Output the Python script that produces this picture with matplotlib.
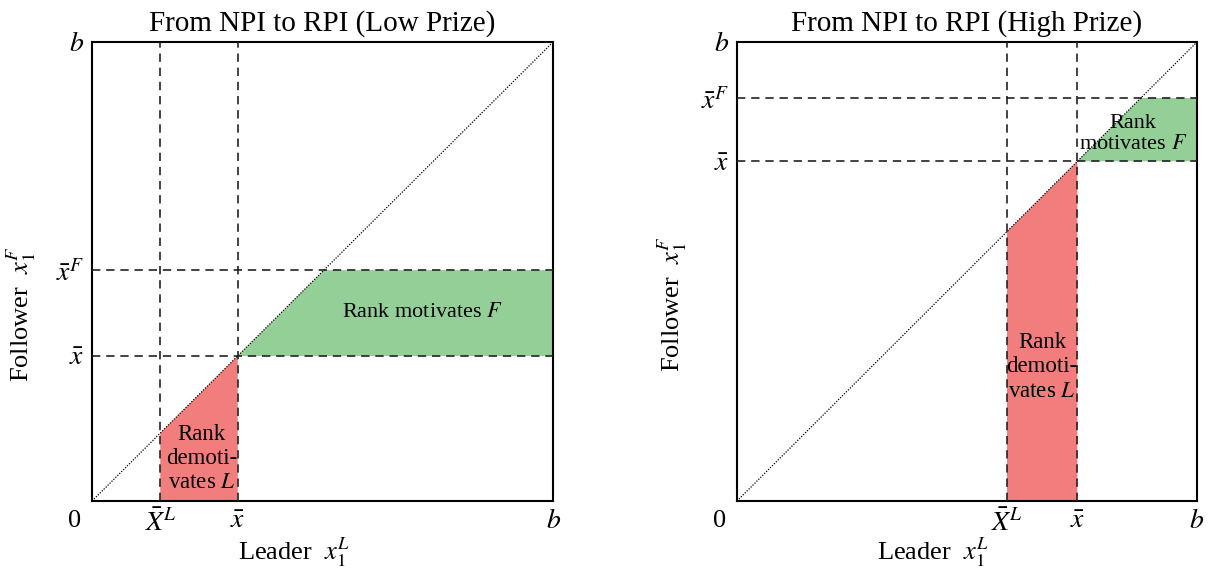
import matplotlib
matplotlib.use("Agg")
import matplotlib.pyplot as plt
from matplotlib.patches import Polygon

plt.rcParams['font.family'] = ['Liberation Serif', 'DejaVu Serif']
plt.rcParams['mathtext.fontset'] = 'stix'

# Threshold values (as fractions of the upper bound b) for each scenario
titles = ["From NPI to RPI (Low Prize)", "From NPI to RPI (High Prize)"]
xbar_L = [0.148, 0.587]      # leader threshold  \bar{X}^L
xbar = [0.316, 0.74]         # common threshold  \bar{x}
xbar_F = [0.503, 0.878]      # follower threshold \bar{x}^F
b_val = 1.0

green_text = ["Rank motivates $F$", "Rank\nmotivates $F$"]
red_text = ["Rank\ndemoti-\nvates $L$", "Rank\ndemoti-\nvates $L$"]
green_pos = [(0.716, 0.41), (0.861, 0.80)]
red_pos = [(0.238, 0.092), (0.663, 0.292)]
xlabel_x = [0.438, 0.426]
ylabel_y = [0.407, 0.43]
ylabel_x = [-0.117, -0.105]

GREEN = "#95cf98"
RED = "#f27d7d"
DASH = dict(color="#222222", lw=1.2, ls=(0, (5, 3.5)), zorder=3)

fig = plt.figure(figsize=(12.11, 5.69), dpi=100)
positions = [[0.076, 0.1195, 0.3807, 0.8067], [0.6086, 0.1195, 0.3798, 0.8067]]

for i, pos in enumerate(positions):
    ax = fig.add_axes(pos)
    ax.set_xlim(0, b_val)
    ax.set_ylim(0, b_val)
    xl, xb, xf = xbar_L[i], xbar[i], xbar_F[i]

    # shaded regions
    ax.add_patch(Polygon([(xl, 0), (xl, xl), (xb, xb), (xb, 0)],
                         closed=True, facecolor=RED, edgecolor='none', zorder=1))
    ax.add_patch(Polygon([(xb, xb), (xf, xf), (b_val, xf), (b_val, xb)],
                         closed=True, facecolor=GREEN, edgecolor='none', zorder=1))

    # 45-degree line
    ax.plot([0, b_val], [0, b_val], color="black", lw=0.9, ls=(0, (1, 1.2)), zorder=2)

    # threshold guide lines
    ax.axvline(xl, **DASH)
    ax.axvline(xb, **DASH)
    ax.axhline(xb, **DASH)
    ax.axhline(xf, **DASH)

    ax.text(*green_pos[i], green_text[i], ha='center', va='center',
            fontsize=16, linespacing=1.15, zorder=4)
    ax.text(*red_pos[i], red_text[i], ha='center', va='center',
            fontsize=16.5, linespacing=1.2, zorder=4)

    ax.set_xticks([xl, xb, b_val])
    ax.set_xticklabels([r"$\bar{X}^L$", r"$\bar{x}$", r"$b$"], fontsize=20)
    ax.set_yticks([xb, xf, b_val])
    ax.set_yticklabels([r"$\bar{x}$", r"$\bar{x}^F$", r"$b$"], fontsize=20)
    ax.tick_params(length=0, pad=6)
    ax.text(-0.038, -0.02, "0", transform=ax.transAxes, ha='center', va='top',
            fontsize=19)

    for s in ax.spines.values():
        s.set_linewidth(1.5)
        s.set_color("black")

    ax.set_title(titles[i], fontsize=21, pad=8)
    ax.set_xlabel(r"Leader  $x_1^L$", fontsize=19)
    ax.xaxis.set_label_coords(xlabel_x[i], -0.075)
    ax.set_ylabel(r"Follower  $x_1^F$", fontsize=19)
    ax.yaxis.set_label_coords(ylabel_x[i], ylabel_y[i])

fig.savefig("out.png", dpi=100)
